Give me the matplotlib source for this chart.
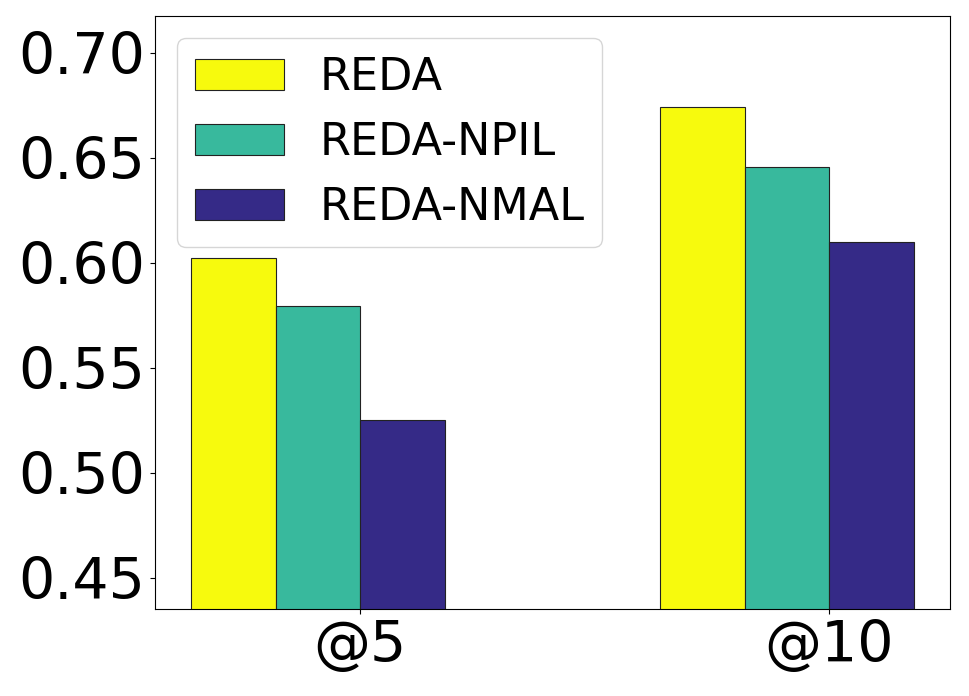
import matplotlib
matplotlib.use("Agg")
import matplotlib.pyplot as plt
import numpy as np

categories = ["@5", "@10"]
series_names = ["REDA", "REDA-NPIL", "REDA-NMAL"]
reda = [0.6022, 0.6739]
reda_npil = [0.5794, 0.6457]
reda_nmal = [0.5252, 0.6101]
colors = ["#f7fa0d", "#38b99d", "#352a87"]

fig = plt.figure(figsize=(9.69, 6.96), dpi=100)
ax = fig.add_axes([155/969, 1 - 609.3/696, (950-155)/969, (609.3-15.7)/696])

x = np.arange(len(categories))
w = 0.18
offsets = [-1.5*w, -0.5*w, 0.5*w]
for vals, name, c, off in zip([reda, reda_npil, reda_nmal], series_names, colors, offsets):
    ax.bar(x + off, vals, width=w, color=c, edgecolor="#222222", linewidth=0.8, label=name)

ax.set_xticks(x)
ax.set_xticklabels(categories)
ax.set_ylim(0.435, 0.7176)
ax.set_yticks([0.45, 0.50, 0.55, 0.60, 0.65, 0.70])
ax.tick_params(axis="both", labelsize=41)
ax.legend(loc="upper left", fontsize=32)

fig.savefig("out.png", dpi=100)
